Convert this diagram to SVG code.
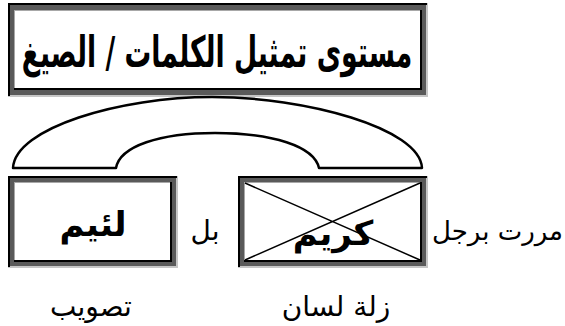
<svg xmlns="http://www.w3.org/2000/svg" width="565" height="326" viewBox="0 0 565 326">
<style>
.lt{fill:#c6c6c6}
.dk{fill:#5a5a5a}
.bl{stroke:#000;stroke-width:2;fill:none}
.wh{fill:#fff;stroke:#a8a8a8;stroke-width:1}
.hv{font-family:"DejaVu Sans",sans-serif;font-weight:bold;fill:#000;text-anchor:middle}
.rg{font-family:"DejaVu Serif","DejaVu Sans",serif;fill:#000}
</style>
<rect width="565" height="326" fill="#fff"/>
<g id="title">
<rect class="lt" x="8" y="3" width="420" height="94"/>
<rect class="dk" x="8" y="3" width="418" height="92"/>
<path class="bl" d="M8,4H427M9,3V96"/>
<rect class="wh" x="14.5" y="10.5" width="406" height="78"/>
<path class="bl" d="M421,10V90M14,89H422"/>
<text class="hv" transform="translate(217,67) scale(0.62,1)" x="0" y="0" font-size="43">مستوى تمثيل الكلمات / الصيغ</text>
</g>
<g id="connectors">
<path d="M13,168C15,128 120,97 212,97C305,97 420,128 422,168H319C314,146 272,133 215,133C160,133 120,146 116,168Z" fill="none" stroke="#000" stroke-width="2.5" stroke-linejoin="round"/>
</g>
<g id="box-laeem">
<rect class="lt" x="8" y="176" width="170" height="92"/>
<rect class="dk" x="8" y="176" width="168" height="90"/>
<path class="bl" d="M8,177H177M9,176V267"/>
<rect class="wh" x="14.5" y="182.5" width="156" height="78"/>
<path class="bl" d="M171,182V262M14,261H172"/>
<text class="hv" x="93" y="236" font-size="34">لئيم</text>
</g>
<g id="box-kareem">
<rect class="lt" x="238" y="176" width="190" height="92"/>
<rect class="dk" x="238" y="176" width="188" height="90"/>
<path class="bl" d="M238,177H427M239,176V267"/>
<rect class="wh" x="244.5" y="182.5" width="176" height="78"/>
<path class="bl" d="M421,182V262M244,261H422"/>
<path d="M245,183L420,260M245,260L420,183" stroke="#000" stroke-width="1.5"/>
<text class="hv" x="333" y="245" font-size="34">كريم</text>
</g>
<text class="rg" x="205" y="240" font-size="28" text-anchor="middle">بل</text>
<text class="rg" x="563" y="240" font-size="26" text-anchor="end">مررت برجل</text>
<text class="rg" x="91" y="316" font-size="28" text-anchor="middle">تصويب</text>
<text class="rg" x="336" y="316" font-size="28" text-anchor="middle">زلة لسان</text>
</svg>
